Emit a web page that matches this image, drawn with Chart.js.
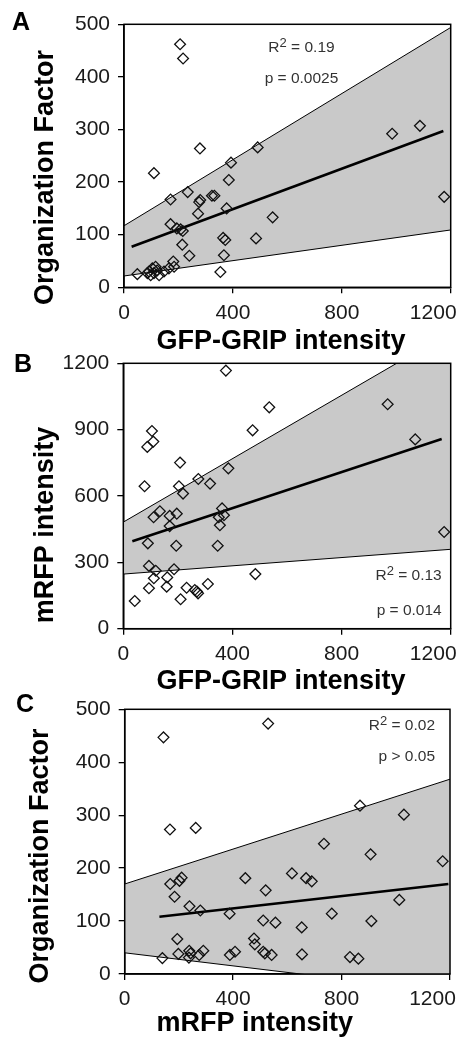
<!DOCTYPE html>
<html><head><meta charset="utf-8">
<script src="https://cdn.jsdelivr.net/npm/chart.js@4.4.0/dist/chart.umd.min.js"></script>
<style>
html,body{margin:0;padding:0;background:#fff;width:463px;height:1042px;overflow:hidden;position:relative}
canvas{position:absolute;left:0}
</style></head><body>
<canvas id="cA" width="463" height="360" style="top:0px"></canvas>
<canvas id="cB" width="463" height="360" style="top:340px"></canvas>
<canvas id="cC" width="463" height="360" style="top:682px"></canvas>
<script>
// ---------- data ----------
const panelLetters = ['A', 'B', 'C'];
const xTitles = ['GFP-GRIP intensity', 'GFP-GRIP intensity', 'mRFP intensity'];
const yTitles = ['Organization Factor', 'mRFP intensity', 'Organization Factor'];
const r2Values = ['0.19', '0.13', '0.02'];
const pTexts = ['p = 0.0025', 'p = 0.014', 'p > 0.05'];
const xTickValues = [0, 400, 800, 1200];
const yTicksOF = [0, 100, 200, 300, 400, 500];
const yTicksRFP = [0, 300, 600, 900, 1200];
const bandX = [0, 1200];

// Panel A: GFP-GRIP intensity vs Organization Factor
const aX = [206, 217, 110, 279, 491, 393, 385, 234, 171, 280, 276, 323, 332, 377, 272, 171, 194, 216, 208, 214, 240, 364, 372, 367, 354, 485, 546, 985, 1087, 1176, 181, 184, 165, 49, 92, 104, 110, 122, 98, 116, 147, 129, 86];
const aY = [462, 435, 217, 264, 266, 237, 204, 181, 167, 166, 162, 174, 174, 150, 140, 120, 112, 107, 110, 81, 60, 94, 90, 61, 29, 93, 133, 292, 307, 172, 49, 39, 36, 25, 30, 36, 27, 32, 23, 39, 30, 23, 27];
const aFitX = [28, 1173];
const aFitY = [77, 297];
const aUpperY = [117, 494];
const aLowerY = [21.5, 109];

// Panel B: GFP-GRIP intensity vs mRFP intensity
const bX = [376, 535, 969, 1070, 1176, 474, 105, 110, 88, 208, 385, 275, 318, 78, 204, 219, 362, 134, 196, 170, 111, 350, 369, 170, 354, 90, 194, 346, 94, 119, 186, 112, 161, 94, 159, 232, 262, 274, 270, 310, 210, 42, 484];
const bY = [1167, 1001, 1015, 856, 437, 897, 894, 846, 822, 751, 725, 677, 656, 644, 644, 611, 544, 531, 520, 510, 504, 504, 513, 464, 468, 386, 375, 375, 284, 262, 269, 228, 232, 183, 190, 185, 175, 160, 168, 202, 133, 125, 247];
const bFitX = [33, 1167];
const bFitY = [395, 858];
const bUpperY = [482, 1342];
const bLowerY = [247, 359];

// Panel C: mRFP intensity vs Organization Factor
const cX = [143, 529, 167, 262, 868, 1030, 735, 907, 1173, 617, 669, 690, 445, 210, 202, 168, 184, 520, 239, 279, 387, 764, 1013, 511, 556, 910, 653, 194, 477, 480, 198, 238, 243, 237, 275, 290, 139, 388, 407, 511, 517, 542, 654, 831, 862];
const cY = [447, 473, 273, 276, 318, 301, 246, 226, 213, 190, 181, 175, 181, 182, 176, 170, 146, 158, 128, 120, 114, 114, 140, 101, 97, 100, 88, 66, 67, 56, 38, 44, 39, 31, 36, 44, 30, 36, 42, 42, 39, 36, 37, 32, 29];
const cFitX = [128, 1194];
const cFitY = [108, 170];
const cUpperY = [170, 368];
const cLowerY = [40, -34];

// ---------- helpers ----------
const zip = (xs, ys) => xs.map((x, i) => ({x: x, y: ys[i]}));
const W = 463, H = 360;
const FONT = '"Liberation Sans", Arial, Helvetica, sans-serif';

const framePlugin = {
  id: 'frame',
  afterDatasetsDraw(chart) {
    const {ctx, chartArea: a} = chart;
    ctx.save();
    ctx.strokeStyle = '#000';
    ctx.lineWidth = 1.5;
    ctx.strokeRect(a.left, a.top, a.right - a.left, a.bottom - a.top);
    ctx.restore();
  }
};

function textPlugin(i, g) {
  return {
    id: 'texts' + i,
    afterDraw(chart) {
      const ctx = chart.ctx;
      ctx.save();
      ctx.fillStyle = '#000';
      ctx.textBaseline = 'alphabetic';
      // panel letter
      ctx.font = 'bold 25px ' + FONT;
      ctx.textAlign = 'left';
      ctx.fillText(panelLetters[i], g.letterX, g.letterY);
      // x title
      ctx.font = 'bold 27px ' + FONT;
      ctx.fillText(xTitles[i], g.xTitleX, g.xTitleY);
      // y title
      ctx.save();
      ctx.translate(g.yTitleX, g.yTitleY);
      ctx.rotate(-Math.PI / 2);
      ctx.textAlign = 'center';
      ctx.fillText(yTitles[i], 0, 0);
      ctx.restore();
      // stats
      ctx.fillStyle = '#333';
      const parts = [
        {t: 'R', f: 15.5, dy: 0},
        {t: '2', f: 13, dy: -5},
        {t: ' = ' + r2Values[i], f: 15.5, dy: 0}
      ];
      let total = 0;
      parts.forEach(p => { ctx.font = p.f + 'px ' + FONT; p.w = ctx.measureText(p.t).width; total += p.w; });
      let x = g.statAlign === 'right' ? g.statX - total : g.statX - total / 2;
      ctx.textAlign = 'left';
      parts.forEach(p => { ctx.font = p.f + 'px ' + FONT; ctx.fillText(p.t, x, g.r2Y + p.dy); x += p.w; });
      ctx.font = '15.5px ' + FONT;
      ctx.textAlign = g.statAlign === 'right' ? 'right' : 'center';
      ctx.fillText(pTexts[i], g.statX, g.pY);
      ctx.restore();
    }
  };
}

function makePanel(i, cfg) {
  const g = cfg.geom;
  const tickFont = {family: FONT, size: 21};
  new Chart(document.getElementById(cfg.id), {
    type: 'scatter',
    data: {
      datasets: [
        {type: 'scatter', data: zip(cfg.x, cfg.y), pointStyle: 'rectRot', pointRadius: 5.4, pointHoverRadius: 5.4,
         borderColor: '#111', backgroundColor: 'rgba(0,0,0,0)', borderWidth: 1.3, order: 0},
        {type: 'line', data: zip(cfg.fitX, cfg.fitY), borderColor: '#000', borderWidth: 2.6, pointRadius: 0, fill: false, tension: 0, order: 1},
        {type: 'line', data: zip(bandX, cfg.upper), borderColor: '#000', borderWidth: 1, pointRadius: 0, tension: 0,
         fill: '+1', backgroundColor: '#c9c9c9', order: 3},
        {type: 'line', data: zip(bandX, cfg.lower), borderColor: '#000', borderWidth: 1, pointRadius: 0, tension: 0, fill: false, order: 2}
      ]
    },
    options: {
      responsive: false, animation: false, devicePixelRatio: 1, events: [],
      layout: {padding: {top: g.top, right: W - g.right, left: 0, bottom: 0}},
      plugins: {legend: {display: false}, tooltip: {enabled: false}},
      scales: {
        x: {
          type: 'linear', min: 0, max: 1200,
          afterBuildTicks: s => { s.ticks = xTickValues.map(v => ({value: v})); },
          ticks: {font: tickFont, color: '#1a1a1a', padding: 7, maxRotation: 0, autoSkip: false,
                  callback: v => v === 1200 ? '1200      ' : String(v)},
          grid: {drawOnChartArea: false, drawTicks: true, tickLength: 6, color: '#000', lineWidth: 1.3},
          border: {display: true, color: '#000', width: 1.5},
          afterFit: s => { s.height = H - g.bottom; s.paddingLeft = 0; s.paddingRight = 0; }
        },
        y: {
          type: 'linear', min: 0, max: cfg.yTicks[cfg.yTicks.length - 1],
          afterBuildTicks: s => { s.ticks = cfg.yTicks.map(v => ({value: v})); },
          ticks: {font: tickFont, color: '#1a1a1a', padding: 8, autoSkip: false, callback: v => String(v)},
          grid: {drawOnChartArea: false, drawTicks: true, tickLength: 6, color: '#000', lineWidth: 1.3},
          border: {display: true, color: '#000', width: 1.5},
          afterFit: s => { s.width = g.left; }
        }
      }
    },
    plugins: [framePlugin, textPlugin(i, g)]
  });
}

makePanel(0, {
  id: 'cA', x: aX, y: aY, fitX: aFitX, fitY: aFitY, upper: aUpperY, lower: aLowerY, yTicks: yTicksOF,
  geom: {left: 124, right: 450.7, top: 24.3, bottom: 287.3, letterX: 12, letterY: 30,
         xTitleX: 156.5, xTitleY: 348.7, yTitleX: 52.5, yTitleY: 177.5,
         statAlign: 'center', statX: 301.5, r2Y: 51.7, pY: 83.3}
});
makePanel(1, {
  id: 'cB', x: bX, y: bY, fitX: bFitX, fitY: bFitY, upper: bUpperY, lower: bLowerY, yTicks: yTicksRFP,
  geom: {left: 123.3, right: 450.7, top: 23.3, bottom: 288.7, letterX: 14, letterY: 31.5,
         xTitleX: 156.5, xTitleY: 348.7, yTitleX: 52.5, yTitleY: 185,
         statAlign: 'right', statX: 441.7, r2Y: 240, pY: 275}
});
makePanel(2, {
  id: 'cC', x: cX, y: cY, fitX: cFitX, fitY: cFitY, upper: cUpperY, lower: cLowerY, yTicks: yTicksOF,
  geom: {left: 124.7, right: 450, top: 27.3, bottom: 292, letterX: 16, letterY: 29.5,
         xTitleX: 156.5, xTitleY: 348.7, yTitleX: 47.5, yTitleY: 174,
         statAlign: 'right', statX: 435, r2Y: 48, pY: 79}
});
</script>
</body></html>
